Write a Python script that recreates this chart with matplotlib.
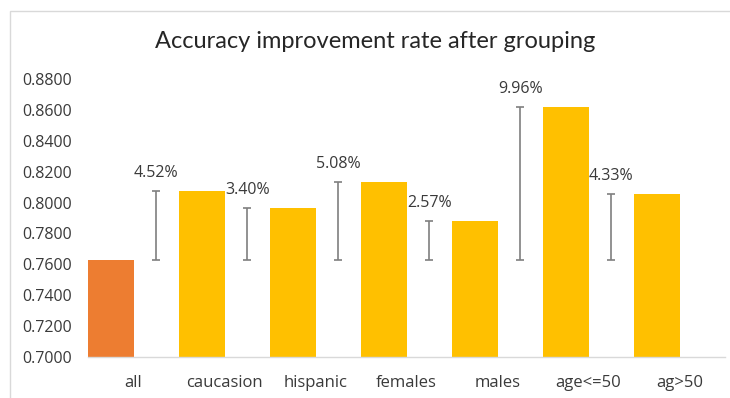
import matplotlib
matplotlib.use("Agg")
import matplotlib.pyplot as plt
from matplotlib.patches import Rectangle
import numpy as np

# Accuracy per group and absolute improvement over the full set
categories = ["all", "caucasion", "hispanic", "females", "males", "age<=50", "ag>50"]
accuracy = [0.7625, 0.8077, 0.7965, 0.8133, 0.7882, 0.8621, 0.8058]
improvement = [0.0452, 0.0340, 0.0508, 0.0257, 0.0996, 0.0433]
bar_colors = ["#ED7D31"] + ["#FFC000"] * 6
yticks = [0.70, 0.72, 0.74, 0.76, 0.78, 0.80, 0.82, 0.84, 0.86, 0.88]

plt.rcParams["font.family"] = ["Open Sans", "DejaVu Sans"]

fig = plt.figure(figsize=(7.30, 3.98), dpi=100)
ax = fig.add_axes([88 / 730, (398 - 357) / 398, (725 - 88) / 730, (357 - 79) / 398])

x = np.arange(len(categories))
ax.bar(x - 0.25, [a - 0.70 for a in accuracy], bottom=0.70, width=0.5,
       color=bar_colors, zorder=2)

# improvement ranges, drawn beside each group bar, starting at the overall accuracy
base = accuracy[0]
for i, gain in enumerate(improvement):
    xe = i + 0.25
    ax.errorbar([xe], [base + gain / 2], yerr=[[gain / 2], [gain / 2]],
                fmt="none", ecolor="#7F7F7F", elinewidth=1.2, capsize=3,
                capthick=1.2, zorder=3)
    ax.annotate(f"{gain * 100:.2f}%", (xe, base + gain), xytext=(0, 13),
                textcoords="offset points", ha="center", va="center",
                fontsize=11.5, color="#3A3A3A")

ax.set_xlim(-0.5, len(categories) - 0.5)
ax.set_ylim(0.70, 0.88)
ax.set_yticks(yticks)
ax.set_yticklabels([f"{t:.4f}" for t in yticks])
ax.set_xticks(x)
ax.set_xticklabels(categories)
ax.tick_params(axis="both", length=0, labelcolor="#3A3A3A")
ax.tick_params(axis="y", pad=11.5, labelsize=11.5)
ax.tick_params(axis="x", pad=13, labelsize=12)

for side in ["top", "right", "left"]:
    ax.spines[side].set_visible(False)
ax.spines["bottom"].set_color("#D9D9D9")
ax.spines["bottom"].set_linewidth(1.0)

fig.text(375 / 730, 1 - 42 / 398, "Accuracy improvement rate after grouping",
         ha="center", va="center", fontsize=17, color="#262626",
         family=["Lato", "DejaVu Sans"])

# chart frame
fig.patches.append(Rectangle((10 / 730, -0.05), 1.2, 1 - 11 / 398 + 0.05,
                             transform=fig.transFigure, fill=False,
                             edgecolor="#D9D9D9", linewidth=1.0))

fig.savefig("out.png", dpi=100)
